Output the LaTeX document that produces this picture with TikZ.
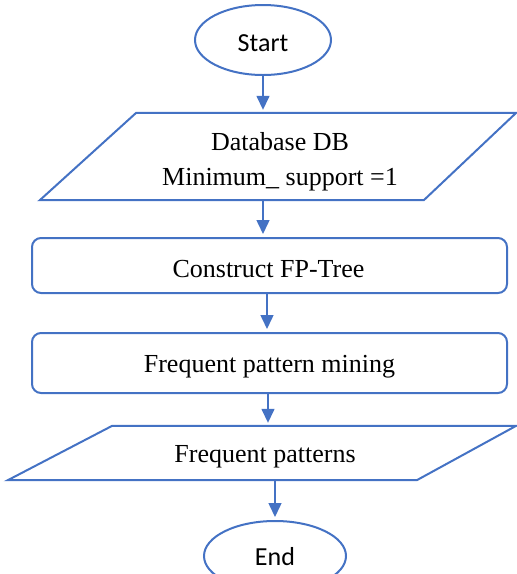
\documentclass[tikz,border=0pt]{standalone}
\usepackage{fontspec}
\setmainfont{Liberation Serif}
\newfontfamily\calfont{Carlito}
\usetikzlibrary{shapes.geometric,arrows.meta}
\definecolor{flowblue}{HTML}{4472C4}
\begin{document}
\begin{tikzpicture}[x=1pt,y=-1pt,
  terminal/.style={ellipse,draw=flowblue,line width=2pt,inner sep=0pt,
    minimum height=70pt},
  process/.style={rectangle,rounded corners=9pt,draw=flowblue,line width=2pt,
    minimum width=475pt,inner sep=0pt},
  iobox/.style={rectangle,inner sep=0pt},
  ioedge/.style={draw=flowblue,line width=2pt,line join=miter},
  sanslabel/.style={inner sep=0pt,font=\calfont\fontsize{26}{30}\selectfont},
  seriflabel/.style={inner sep=0pt,align=center,font=\fontsize{26}{35}\selectfont},
  flow/.style={draw=flowblue,line width=1.5pt,
    -{Triangle[width=13pt,length=14pt]},shorten >=3pt}
]
\clip (0,0) rectangle (517,574);

% terminals
\node[terminal,minimum width=136pt] (start) at (263,40) {};
\node[sanslabel] (start-text) at ([yshift=-3pt]start.center) {Start};
\node[terminal,minimum width=142pt] (end) at (275,556) {};
\node[sanslabel] (end-text) at ([yshift=-1pt]end.center) {End};

% input: database and threshold
\node[iobox,minimum width=476pt,minimum height=87pt] (db) at (278,156.5) {};
\draw[ioedge] (db.south west) -- ++(384,0) -- (db.north east) -- ++(-380,0) -- cycle;
\node[seriflabel] (db-text) at ([xshift=2pt,yshift=-5pt]db.center)
  {Database DB\\Minimum\_ support =1};

% processing steps
\node[process,minimum height=55pt] (fp) at (269.5,265.5) {};
\node[seriflabel] (fp-text) at ([xshift=-1pt,yshift=-4pt]fp.center) {Construct FP-Tree};
\node[process,minimum height=60pt] (mine) at (269.5,363) {};
\node[seriflabel] (mine-text) at ([yshift=-4pt]mine.center) {Frequent pattern mining};

% output
\node[iobox,minimum width=508pt,minimum height=54pt] (fpat) at (262,453) {};
\draw[ioedge] (fpat.south west) -- ++(409,0) -- (fpat.north east) -- ++(-404,0) -- cycle;
\node[seriflabel] (fpat-text) at ([xshift=3pt,yshift=-4pt]fpat.center) {Frequent patterns};

% flow arrows
\draw[flow] (start.south) -- (start.south |- db.north);
\draw[flow] (start.south |- db.south) -- (start.south |- fp.north);
\draw[flow] ([xshift=-2.5pt]fp.south) -- ([xshift=-2.5pt]fp.south |- mine.north);
\draw[flow] ([xshift=-1.5pt]mine.south) -- ([xshift=-1.5pt]mine.south |- fpat.north);
\draw[flow] (end.north |- fpat.south) -- (end.north);
\end{tikzpicture}
\end{document}
